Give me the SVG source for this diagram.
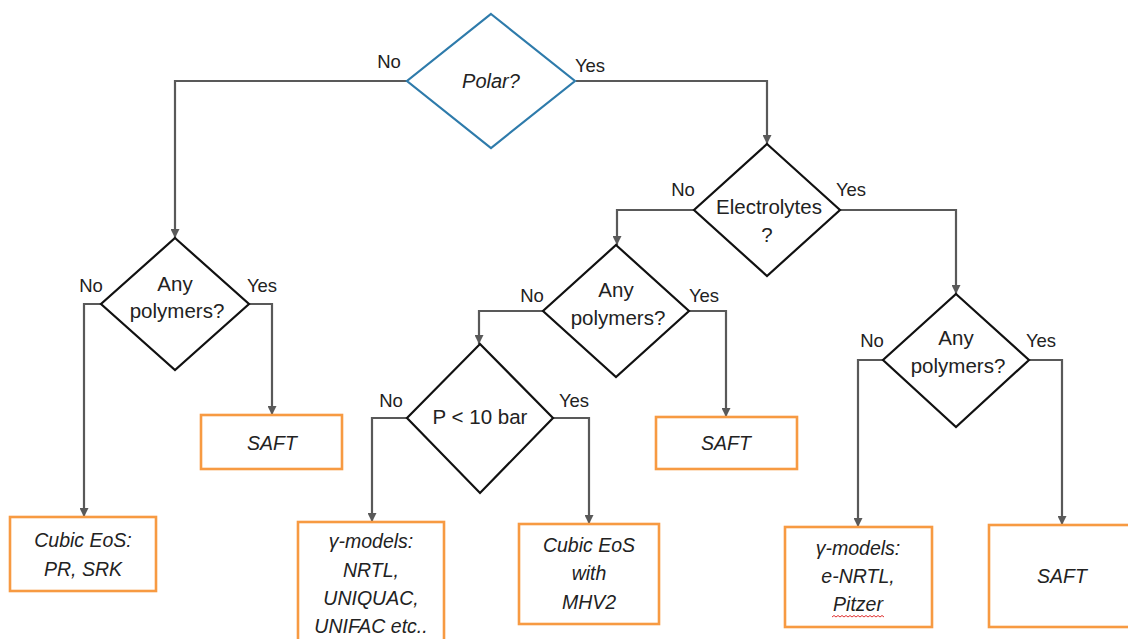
<svg xmlns="http://www.w3.org/2000/svg" width="1128" height="639" viewBox="0 0 1128 639">
<defs>
<style>
.bg{fill:#ffffff}
.dia{fill:#ffffff;stroke:#111111;stroke-width:2.2}
.dia.blue{stroke:#2e7bab}
.box{fill:#ffffff;stroke:#f79a42;stroke-width:2.6}
.con{fill:none;stroke:#595959;stroke-width:2.2}
text{font-family:"Liberation Sans",Arial,sans-serif;fill:#222222;text-anchor:middle}
.lbl{font-size:18.5px}
.q{font-size:20.5px}
.m{font-size:19.5px;font-style:italic}
.sq{fill:none;stroke:#e03030;stroke-width:1}
</style>
<marker id="arr" viewBox="0 0 10 10" refX="10" refY="5" markerWidth="9" markerHeight="9" markerUnits="userSpaceOnUse" orient="auto">
<path d="M0,0 L10,5 L0,10 z" fill="#595959"/>
</marker>
</defs>
<rect class="bg" x="0" y="0" width="1128" height="639"/>

<g id="connectors">
<path class="con" d="M407,81 H175 V238" marker-end="url(#arr)"/>
<path class="con" d="M576,81 H767 V144" marker-end="url(#arr)"/>
<path class="con" d="M694,210 H617 V245" marker-end="url(#arr)"/>
<path class="con" d="M840,210 H956 V294" marker-end="url(#arr)"/>
<path class="con" d="M101,304 H84 V517" marker-end="url(#arr)"/>
<path class="con" d="M249,304 H272 V415" marker-end="url(#arr)"/>
<path class="con" d="M543,311 H479 V344" marker-end="url(#arr)"/>
<path class="con" d="M689,311 H726 V417" marker-end="url(#arr)"/>
<path class="con" d="M407,418 H372 V522" marker-end="url(#arr)"/>
<path class="con" d="M553,418 H589 V524" marker-end="url(#arr)"/>
<path class="con" d="M883,360 H858 V527" marker-end="url(#arr)"/>
<path class="con" d="M1029,360 H1062 V525" marker-end="url(#arr)"/>
<text class="lbl" x="389" y="68">No</text>
<text class="lbl" x="590" y="72">Yes</text>
<text class="lbl" x="683" y="196">No</text>
<text class="lbl" x="851" y="196">Yes</text>
<text class="lbl" x="91" y="292">No</text>
<text class="lbl" x="262" y="292">Yes</text>
<text class="lbl" x="532" y="302">No</text>
<text class="lbl" x="704" y="302">Yes</text>
<text class="lbl" x="391" y="407">No</text>
<text class="lbl" x="574" y="407">Yes</text>
<text class="lbl" x="872" y="347">No</text>
<text class="lbl" x="1041" y="347">Yes</text>
</g>

<g id="polar">
<polygon class="dia blue" points="491,14 575,81 491,148 407,81"/>
<text class="m" x="491" y="88" style="font-size:20px">Polar?</text>
</g>

<g id="electrolytes">
<polygon class="dia" points="767,144 840,210 767,276 694,210"/>
<text class="q" x="769" y="214">Electrolytes</text>
<text class="q" x="767" y="242">?</text>
</g>

<g id="polymers-left">
<polygon class="dia" points="175,238 249,304 175,370 101,304"/>
<text class="q" x="175" y="291">Any</text>
<text class="q" x="177" y="318">polymers?</text>
</g>

<g id="polymers-mid">
<polygon class="dia" points="616,245 689,311 616,377 543,311"/>
<text class="q" x="616" y="297">Any</text>
<text class="q" x="618" y="325">polymers?</text>
</g>

<g id="pressure">
<polygon class="dia" points="480,344 553,418 480,493 407,418"/>
<text class="q" x="480" y="424">P &lt; 10 bar</text>
</g>

<g id="polymers-right">
<polygon class="dia" points="956,294 1029,360 956,427 883,360"/>
<text class="q" x="956" y="345">Any</text>
<text class="q" x="958" y="373">polymers?</text>
</g>

<g id="saft-left">
<rect class="box" x="201" y="415" width="141" height="54"/>
<text class="m" x="272" y="450">SAFT</text>
</g>

<g id="cubic-eos">
<rect class="box" x="10" y="517" width="146" height="74"/>
<text class="m" x="83" y="547">Cubic EoS:</text>
<text class="m" x="83" y="576">PR, SRK</text>
</g>

<g id="gamma-models">
<rect class="box" x="298" y="522" width="146" height="130"/>
<text class="m" x="371" y="548">γ-models:</text>
<text class="m" x="371" y="577">NRTL,</text>
<text class="m" x="371" y="605">UNIQUAC,</text>
<text class="m" x="371" y="633">UNIFAC etc..</text>
</g>

<g id="cubic-mhv2">
<rect class="box" x="519" y="524" width="140" height="100"/>
<text class="m" x="589" y="552">Cubic EoS</text>
<text class="m" x="589" y="580">with</text>
<text class="m" x="589" y="609">MHV2</text>
</g>

<g id="saft-mid">
<rect class="box" x="656" y="417" width="141" height="52"/>
<text class="m" x="726" y="450">SAFT</text>
</g>

<g id="gamma-electrolyte">
<rect class="box" x="785" y="527" width="147" height="100"/>
<text class="m" x="858" y="555">γ-models:</text>
<text class="m" x="858" y="583">e-NRTL,</text>
<text class="m" x="858" y="611">Pitzer</text>
<path class="sq" d="M832,617 l2,-1.5 l2,1.5 l2,-1.5 l2,1.5 l2,-1.5 l2,1.5 l2,-1.5 l2,1.5 l2,-1.5 l2,1.5 l2,-1.5 l2,1.5 l2,-1.5 l2,1.5 l2,-1.5 l2,1.5 l2,-1.5 l2,1.5 l2,-1.5 l2,1.5 l2,-1.5 l2,1.5 l2,-1.5 l2,1.5 l2,-1.5 l2,1.5"/>
</g>

<g id="saft-right">
<rect class="box" x="989" y="525" width="160" height="102"/>
<text class="m" x="1062" y="583">SAFT</text>
</g>
</svg>
